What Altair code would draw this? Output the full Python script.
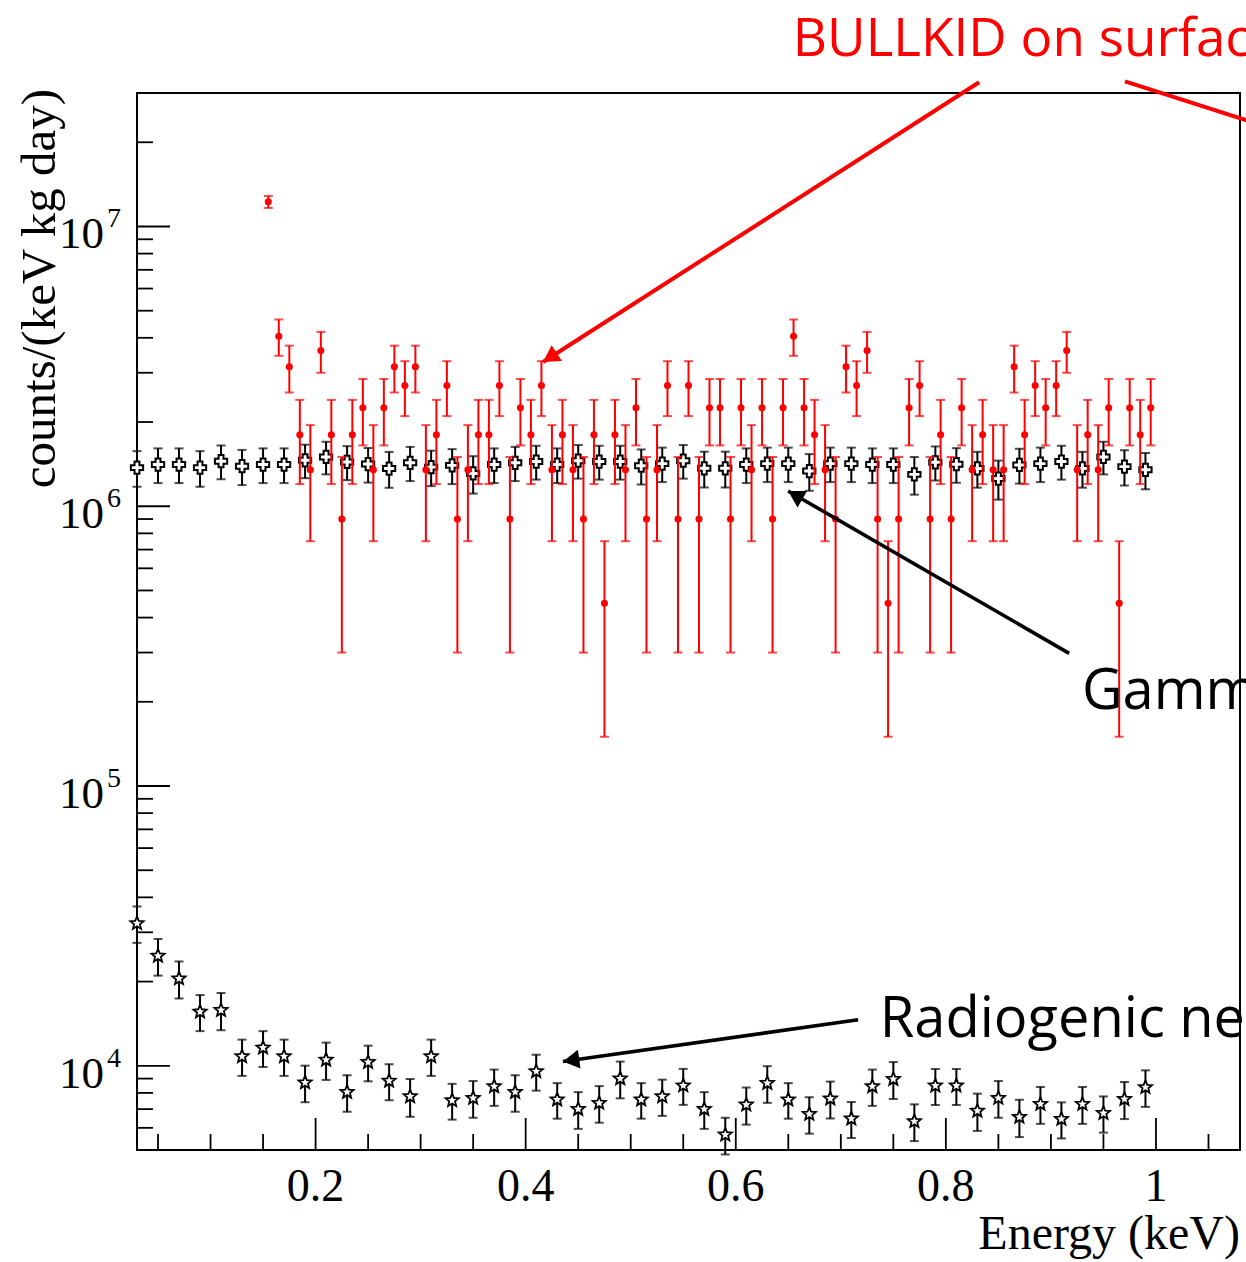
import altair as alt
import pandas as pd

# ---------------- data ----------------
# Energy bin centres (keV)
energy_coarse = [0.03, 0.05, 0.07, 0.09, 0.11, 0.13, 0.15, 0.17, 0.19, 0.21,
                 0.23, 0.25, 0.27, 0.29, 0.31, 0.33, 0.35, 0.37, 0.39, 0.41,
                 0.43, 0.45, 0.47, 0.49, 0.51, 0.53, 0.55, 0.57, 0.59, 0.61,
                 0.63, 0.65, 0.67, 0.69, 0.71, 0.73, 0.75, 0.77, 0.79, 0.81,
                 0.83, 0.85, 0.87, 0.89, 0.91, 0.93, 0.95, 0.97, 0.99]
energy_fine = [0.155, 0.165, 0.175, 0.185, 0.195, 0.205, 0.215, 0.225, 0.235, 0.245,
               0.255, 0.265, 0.275, 0.285, 0.295, 0.305, 0.315, 0.325, 0.335, 0.345,
               0.355, 0.365, 0.375, 0.385, 0.395, 0.405, 0.415, 0.425, 0.435, 0.445,
               0.455, 0.465, 0.475, 0.485, 0.495, 0.505, 0.515, 0.525, 0.535, 0.545,
               0.555, 0.565, 0.575, 0.585, 0.595, 0.605, 0.615, 0.625, 0.635, 0.645,
               0.655, 0.665, 0.675, 0.685, 0.695, 0.705, 0.715, 0.725, 0.735, 0.745,
               0.755, 0.765, 0.775, 0.785, 0.795, 0.805, 0.815, 0.825, 0.835, 0.845,
               0.855, 0.865, 0.875, 0.885, 0.895, 0.905, 0.915, 0.925, 0.935, 0.945,
               0.955, 0.965, 0.975, 0.985, 0.995]

# BULLKID on surface (units of 1e6 counts/(keV kg day))
bullkid_1e6 = [12.25, 4.05, 3.15, 1.8, 1.35, 3.6, 1.8, 0.9, 1.8, 2.25,
               1.35, 2.25, 3.15, 2.7, 3.15, 1.35, 1.8, 2.7, 0.9, 1.35,
               1.8, 1.8, 2.7, 0.9, 2.25, 1.8, 2.7, 1.35, 1.8, 1.35,
               0.9, 1.8, 0.45, 1.8, 1.35, 2.25, 0.9, 1.35, 2.7, 0.9,
               2.7, 0.9, 2.25, 2.25, 0.9, 2.25, 1.35, 2.25, 0.9, 2.25,
               4.05, 2.25, 1.8, 1.35, 0.9, 3.15, 2.7, 3.6, 0.9, 0.45,
               0.9, 2.25, 2.7, 0.9, 1.8, 0.9, 2.25, 1.35, 1.8, 1.35,
               1.35, 3.15, 1.8, 2.7, 2.25, 2.7, 3.6, 1.35, 1.8, 1.35,
               2.25, 0.45, 2.25, 1.8, 2.25]
bullkid_err_1e6 = [0.6, 0.6, 0.6, 0.6, 0.6, 0.6, 0.6, 0.6, 0.6, 0.6,
                   0.6, 0.6, 0.6, 0.6, 0.6, 0.6, 0.6, 0.6, 0.6, 0.6,
                   0.6, 0.6, 0.6, 0.6, 0.6, 0.6, 0.6, 0.6, 0.6, 0.6,
                   0.6, 0.6, 0.3, 0.6, 0.6, 0.6, 0.6, 0.6, 0.6, 0.6,
                   0.6, 0.6, 0.6, 0.6, 0.6, 0.6, 0.6, 0.6, 0.6, 0.6,
                   0.6, 0.6, 0.6, 0.6, 0.6, 0.6, 0.6, 0.6, 0.6, 0.3,
                   0.6, 0.6, 0.6, 0.6, 0.6, 0.6, 0.6, 0.6, 0.6, 0.6,
                   0.6, 0.6, 0.6, 0.6, 0.6, 0.6, 0.6, 0.6, 0.6, 0.6,
                   0.6, 0.3, 0.6, 0.6, 0.6]

# Gamma background (units of 1e6)
gamma_1e6 = [1.374, 1.41, 1.41, 1.374, 1.449, 1.39, 1.41, 1.41, 1.46, 1.50,
             1.44, 1.415, 1.364, 1.43, 1.38, 1.40, 1.31, 1.41, 1.43, 1.445,
             1.41, 1.455, 1.445, 1.445, 1.396, 1.42, 1.455, 1.367, 1.367, 1.41,
             1.42, 1.42, 1.336, 1.42, 1.42, 1.41, 1.41, 1.30, 1.436, 1.413,
             1.365, 1.256, 1.405, 1.42, 1.445, 1.365, 1.50, 1.386, 1.35]
gamma_err_1e6 = [0.2, 0.2, 0.2, 0.2, 0.2, 0.2, 0.2, 0.2, 0.2, 0.2,
                 0.2, 0.2, 0.2, 0.2, 0.2, 0.2, 0.2, 0.2, 0.2, 0.2,
                 0.2, 0.2, 0.2, 0.2, 0.2, 0.2, 0.2, 0.2, 0.2, 0.2,
                 0.2, 0.2, 0.2, 0.2, 0.2, 0.2, 0.2, 0.2, 0.2, 0.2,
                 0.2, 0.2, 0.2, 0.2, 0.2, 0.2, 0.2, 0.2, 0.2]

# Radiogenic neutrons (units of 1e3)
neutron_1e3 = [32.3, 24.7, 20.5, 15.6, 15.8, 10.8, 11.6, 10.8, 8.71, 10.5,
               8.05, 10.3, 8.83, 7.77, 10.8, 7.52, 7.67, 8.44, 8.05, 9.55,
               7.57, 7.0, 7.36, 9.0, 7.57, 7.77, 8.5, 7.0, 5.67, 7.26,
               8.67, 7.57, 6.72, 7.63, 6.47, 8.44, 8.96, 6.33, 8.49, 8.49,
               6.9, 7.67, 6.56, 7.3, 6.45, 7.3, 6.77, 7.6, 8.38]
neutron_err_1e3 = [4.8, 3.7, 3.1, 2.3, 2.4, 1.6, 1.7, 1.6, 1.3, 1.6,
                   1.2, 1.5, 1.3, 1.2, 1.6, 1.1, 1.15, 1.25, 1.2, 1.4,
                   1.1, 1.05, 1.1, 1.35, 1.1, 1.15, 1.25, 1.05, 0.85, 1.1,
                   1.3, 1.1, 1.0, 1.15, 0.95, 1.25, 1.35, 0.95, 1.25, 1.25,
                   1.05, 1.15, 1.0, 1.1, 0.95, 1.1, 1.0, 1.15, 1.25]

# Axis ticks and labels
x_major = [0.2, 0.4, 0.6, 0.8, 1.0]
x_major_labels = ["0.2", "0.4", "0.6", "0.8", "1"]
x_minor = [0.05, 0.1, 0.15, 0.25, 0.3, 0.35, 0.45, 0.5, 0.55, 0.65, 0.7, 0.75,
           0.85, 0.9, 0.95, 1.05]
y_major = [1e4, 1e5, 1e6, 1e7]
y_major_exp = ["4", "5", "6", "7"]
y_minor = [6e3, 7e3, 8e3, 9e3,
           2e4, 3e4, 4e4, 5e4, 6e4, 7e4, 8e4, 9e4,
           2e5, 3e5, 4e5, 5e5, 6e5, 7e5, 8e5, 9e5,
           2e6, 3e6, 4e6, 5e6, 6e6, 7e6, 8e6, 9e6,
           2e7]
x_title = "Energy (keV)"
y_title = "counts/(keV kg day)"

# Annotations (energy, rate)
ann_red_text = ["BULLKID on surface"]
ann_red_pos = [(0.6543, 4.08e7)]
ann_black_text = ["Gamma background", "Radiogenic neutrons"]
ann_black_pos = [(0.9295, 1.884e5), (0.7371, 1.27e4)]
arrow_red = [(0.8317, 3.277e7, 0.4165, 3.277e6)]
line_red = [(0.9705, 3.30e7, 1.1371, 2.08e7)]
arrow_gamma = [(0.9174, 2.98e5, 0.6498, 1.134e6)]
arrow_neutron = [(0.7165, 1.46e4, 0.4355, 1.036e4)]

# ---------------- frames ----------------
red = pd.DataFrame({"E": energy_fine,
                    "v": [a * 1e6 for a in bullkid_1e6],
                    "e": [a * 1e6 for a in bullkid_err_1e6]})
gam = pd.DataFrame({"E": energy_coarse,
                    "v": [a * 1e6 for a in gamma_1e6],
                    "e": [a * 1e6 for a in gamma_err_1e6]})
neu = pd.DataFrame({"E": energy_coarse,
                    "v": [a * 1e3 for a in neutron_1e3],
                    "e": [a * 1e3 for a in neutron_err_1e3]})
for d in (red, gam, neu):
    d["lo"] = d["v"] - d["e"]
    d["hi"] = d["v"] + d["e"]

W, H = 1103, 1057
xscale = alt.Scale(domain=[0.03, 1.08], nice=False, zero=False)
yscale = alt.Scale(type="log", domain=[5e3, 3e7], nice=False)
SERIF = "Liberation Serif"
SANS = "Open Sans"
STAR = ("M0,-1L0.26,-0.36L0.951,-0.309L0.42,0.137L0.588,0.809L0,0.44"
        "L-0.588,0.809L-0.42,0.137L-0.951,-0.309L-0.26,-0.36Z")


def X(f):
    return alt.X(f, type="quantitative", scale=xscale, axis=None)


def Y(f):
    return alt.Y(f, type="quantitative", scale=yscale, axis=None)


layers = []

# ticks (inward, ROOT style)
layers.append(alt.Chart(pd.DataFrame({"t": x_major})).mark_rule(color="black", strokeWidth=1.8)
              .encode(x=X("t"), y=alt.value(H), y2=alt.value(H - 32)))
layers.append(alt.Chart(pd.DataFrame({"t": x_minor})).mark_rule(color="black", strokeWidth=1.8)
              .encode(x=X("t"), y=alt.value(H), y2=alt.value(H - 16)))
layers.append(alt.Chart(pd.DataFrame({"t": y_major})).mark_rule(color="black", strokeWidth=1.8)
              .encode(y=Y("t"), x=alt.value(0), x2=alt.value(33)))
layers.append(alt.Chart(pd.DataFrame({"t": y_minor})).mark_rule(color="black", strokeWidth=1.8)
              .encode(y=Y("t"), x=alt.value(0), x2=alt.value(16)))


def series(df, color, shape, size, sw):
    base = alt.Chart(df)
    out = [
        base.mark_rule(color=color, strokeWidth=2).encode(x=X("E"), y=Y("lo"), y2=alt.Y2("hi")),
        base.mark_tick(color=color, orient="horizontal", size=9, thickness=2).encode(x=X("E"), y=Y("lo")),
        base.mark_tick(color=color, orient="horizontal", size=9, thickness=2).encode(x=X("E"), y=Y("hi")),
    ]
    if shape == "circle":
        pts = base.mark_circle(color=color, size=size, opacity=1)
    else:
        pts = base.mark_point(shape=shape, filled=True, fill="white", stroke=color,
                              strokeWidth=sw, size=size, opacity=1)
    out.append(pts.encode(x=X("E"), y=Y("v")))
    return out


layers += series(gam, "black", "cross", 150, 2)
layers += series(neu, "black", STAR, 190, 1.8)
layers += series(red, "#ff0000", "circle", 50, 0)

# y-axis labels 10^n
ylab = pd.DataFrame({"t": y_major, "exp": y_major_exp})
layers.append(alt.Chart(ylab).mark_text(align="right", baseline="alphabetic", font=SERIF,
                                        fontSize=45, dy=22, color="black")
              .encode(y=Y("t"), x=alt.value(-33), text=alt.value("10")))
layers.append(alt.Chart(ylab).mark_text(align="left", baseline="alphabetic", font=SERIF,
                                        fontSize=28, dy=1, color="black")
              .encode(y=Y("t"), x=alt.value(-30), text="exp:N"))

# x-axis labels
xlab = pd.DataFrame({"t": x_major, "label": x_major_labels})
layers.append(alt.Chart(xlab).mark_text(align="center", baseline="alphabetic", font=SERIF,
                                        fontSize=46, color="black")
              .encode(x=X("t"), y=alt.value(H + 51), text="label:N"))

# axis titles
layers.append(alt.Chart(pd.DataFrame({"label": [x_title]}))
              .mark_text(align="right", baseline="alphabetic", font=SERIF, fontSize=48, color="black")
              .encode(x=alt.value(W), y=alt.value(H + 99), text="label:N"))
layers.append(alt.Chart(pd.DataFrame({"label": [y_title]}))
              .mark_text(align="right", baseline="alphabetic", font=SERIF, fontSize=49,
                         color="black", angle=270)
              .encode(x=alt.value(-82), y=alt.value(-4), text="label:N"))


def seg_df(segs):
    return pd.DataFrame([{"x1": a, "y1": b, "x2": c, "y2": d} for a, b, c, d in segs])


def seg_layer(segs, color, sw):
    return alt.Chart(seg_df(segs)).mark_rule(color=color, strokeWidth=sw).encode(
        x=X("x1"), y=Y("y1"), x2=alt.X2("x2"), y2=alt.Y2("y2"))


def head_layer(segs, color, angle, dx, dy):
    return alt.Chart(seg_df(segs)).mark_point(shape="triangle-up", filled=True, color=color,
                                              opacity=1, size=360, angle=angle,
                                              xOffset=dx, yOffset=dy).encode(
        x=X("x2"), y=Y("y2"))


layers.append(seg_layer(arrow_red, "#ff0000", 4))
layers.append(seg_layer(line_red, "#ff0000", 4))
layers.append(seg_layer(arrow_gamma, "black", 3.6))
layers.append(seg_layer(arrow_neutron, "black", 3.6))
layers.append(head_layer(arrow_red, "#ff0000", 237, 6.9, -4.4))
layers.append(head_layer(arrow_gamma, "black", 300, 7.1, 4.1))
layers.append(head_layer(arrow_neutron, "black", 262, 8.1, -1.2))

red_txt = pd.DataFrame({"x": [p[0] for p in ann_red_pos], "y": [p[1] for p in ann_red_pos],
                        "label": ann_red_text})
blk_txt = pd.DataFrame({"x": [p[0] for p in ann_black_pos], "y": [p[1] for p in ann_black_pos],
                        "label": ann_black_text})
layers.append(alt.Chart(red_txt).mark_text(align="left", baseline="alphabetic", font=SANS,
                                           fontSize=53, color="#ff0000")
              .encode(x=X("x"), y=Y("y"), text="label:N"))
layers.append(alt.Chart(blk_txt).mark_text(align="left", baseline="alphabetic", font=SANS,
                                           fontSize=56, color="black")
              .encode(x=X("x"), y=Y("y"), text="label:N"))

chart = alt.layer(*layers).properties(
    width=W, height=H,
    autosize=alt.AutoSizeParams(type="none"),
    padding={"left": 137, "top": 93, "right": 6, "bottom": 112},
    background="white",
).configure_view(stroke="black", strokeWidth=2)

chart.save("out.html", embed_options={"renderer": "svg", "actions": False})
